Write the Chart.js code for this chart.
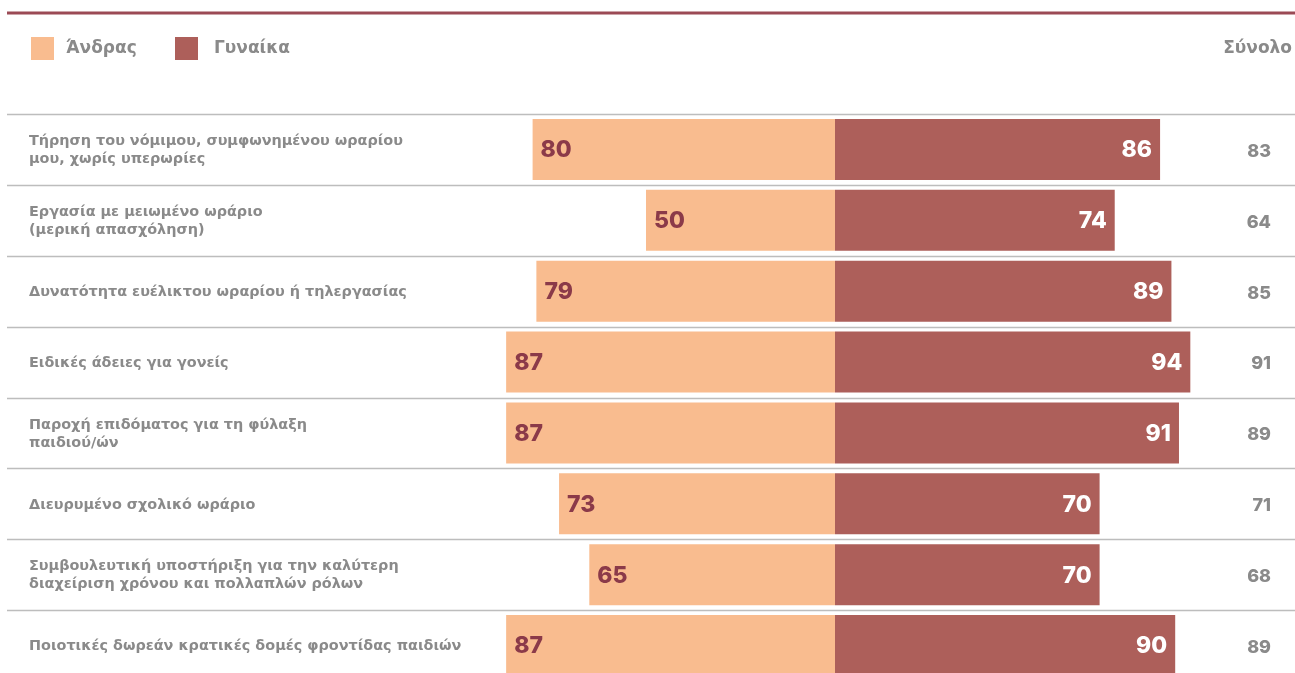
<!DOCTYPE html>
<html>
<head>
<meta charset="utf-8">
<script src="https://cdn.jsdelivr.net/npm/chart.js@4.4.1/dist/chart.umd.min.js"></script>
<style>
  html, body { margin: 0; padding: 0; background: #ffffff; overflow: hidden; }
  #wrap { position: relative; width: 1295px; height: 673px; overflow: hidden; }
  canvas { display: block; }
</style>
</head>
<body>
<div id="wrap"><canvas id="c" width="1295" height="681"></canvas></div>
<script>
const categories = [
  ["Τήρηση του νόμιμου, συμφωνημένου ωραρίου", "μου, χωρίς υπερωρίες"],
  ["Εργασία με μειωμένο ωράριο", "(μερική απασχόληση)"],
  ["Δυνατότητα ευέλικτου ωραρίου ή τηλεργασίας"],
  ["Ειδικές άδειες για γονείς"],
  ["Παροχή επιδόματος για τη φύλαξη", "παιδιού/ών"],
  ["Διευρυμένο σχολικό ωράριο"],
  ["Συμβουλευτική υποστήριξη για την καλύτερη", "διαχείριση χρόνου και πολλαπλών ρόλων"],
  ["Ποιοτικές δωρεάν κρατικές δομές φροντίδας παιδιών"]
];
const seriesNames = ["Άνδρας", "Γυναίκα"];
const menValues = [80, 50, 79, 87, 87, 73, 65, 87];
const womenValues = [86, 74, 89, 94, 91, 70, 70, 90];
const totalValues = [83, 64, 85, 91, 89, 71, 68, 89];
const totalHeader = "Σύνολο";

const MEN_COLOR = "#f9bc8f";
const WOMEN_COLOR = "#ad5f5a";
const GRAY_TEXT = "#8a8a8a";
const MEN_VALUE_COLOR = "#8b3a49";
const FONT = "'DejaVu Sans', 'Noto Sans', sans-serif";
const NUM_FONT = "Inter, 'DejaVu Sans', sans-serif";

const decor = {
  id: "decor",
  beforeDatasetsDraw(chart) {
    const ctx = chart.ctx;
    const y = chart.scales.y;
    const W = chart.width;
    ctx.save();
    // top rule
    ctx.strokeStyle = "#9b4a55";
    ctx.lineWidth = 3;
    ctx.beginPath(); ctx.moveTo(7, 13); ctx.lineTo(W, 13); ctx.stroke();
    // legend
    const legendX = [31, 175];
    const colors = [MEN_COLOR, WOMEN_COLOR];
    ctx.font = "bold 17px " + FONT;
    ctx.textBaseline = "middle";
    ctx.textAlign = "left";
    for (let i = 0; i < 2; i++) {
      ctx.fillStyle = colors[i];
      ctx.fillRect(legendX[i], 37, 23, 23);
      ctx.fillStyle = GRAY_TEXT;
      ctx.fillText(seriesNames[i], legendX[i] + (i === 0 ? 35 : 39), 49);
    }
    ctx.textAlign = "right";
    ctx.fillText(totalHeader, 1292, 49);
    // row separators
    ctx.strokeStyle = "#bdbdbd";
    ctx.lineWidth = 1.5;
    const n = categories.length;
    const half = (y.getPixelForValue(1) - y.getPixelForValue(0)) / 2;
    for (let i = 0; i < n; i++) {
      const c = y.getPixelForValue(i);
      const yy = Math.round(c - half) + 0.5;
      ctx.beginPath(); ctx.moveTo(7, yy); ctx.lineTo(W, yy); ctx.stroke();
    }
    // category labels
    ctx.fillStyle = GRAY_TEXT;
    ctx.font = "bold 14.4px " + FONT;
    ctx.textAlign = "left";
    for (let i = 0; i < n; i++) {
      const c = y.getPixelForValue(i);
      const lines = categories[i];
      const lh = 18;
      const start = c - (lines.length - 1) * lh / 2;
      lines.forEach((t, k) => ctx.fillText(t, 29, start + k * lh + 1));
    }
    ctx.restore();
  },
  afterDatasetsDraw(chart) {
    const ctx = chart.ctx;
    ctx.save();
    ctx.textBaseline = "middle";
    ctx.font = "800 23px " + NUM_FONT;
    const m0 = chart.getDatasetMeta(0).data;
    const m1 = chart.getDatasetMeta(1).data;
    m0.forEach((el, i) => {
      ctx.fillStyle = MEN_VALUE_COLOR;
      ctx.textAlign = "left";
      ctx.fillText(String(menValues[i]), Math.min(el.x, el.base) + 8, el.y + 1);
    });
    m1.forEach((el, i) => {
      ctx.fillStyle = "#ffffff";
      ctx.textAlign = "right";
      ctx.fillText(String(womenValues[i]), Math.max(el.x, el.base) - 8, el.y + 1);
    });
    ctx.font = "800 18px " + NUM_FONT;
    ctx.fillStyle = GRAY_TEXT;
    ctx.textAlign = "right";
    m1.forEach((el, i) => {
      ctx.fillText(String(totalValues[i]), 1271, el.y + 2);
    });
    ctx.restore();
  }
};

new Chart(document.getElementById("c"), {
  type: "bar",
  data: {
    labels: categories,
    datasets: [
      { label: seriesNames[0], data: menValues.map(v => -v), backgroundColor: MEN_COLOR, borderWidth: 0,
        categoryPercentage: 1, barPercentage: 0.86 },
      { label: seriesNames[1], data: womenValues, backgroundColor: WOMEN_COLOR, borderWidth: 0,
        categoryPercentage: 1, barPercentage: 0.86 }
    ]
  },
  options: {
    indexAxis: "y",
    responsive: false,
    animation: false,
    layout: { padding: { top: 114, left: 457, right: 82, bottom: 0 } },
    plugins: { legend: { display: false }, tooltip: { enabled: false } },
    scales: {
      x: { stacked: true, min: -100, max: 100, display: false },
      y: { stacked: true, display: false, offset: true }
    }
  },
  plugins: [decor]
});
</script>
</body>
</html>
